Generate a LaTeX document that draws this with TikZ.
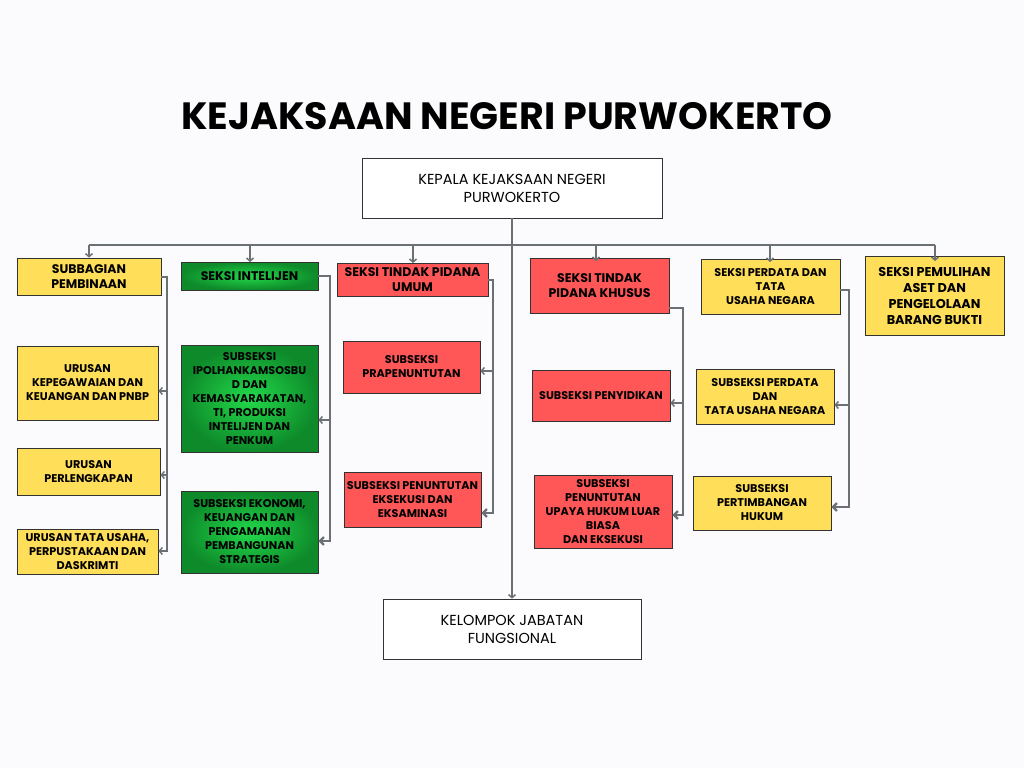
\documentclass[tikz,border=0pt]{standalone}
\usepackage{fontspec}
\setmainfont{Poppins}
\usetikzlibrary{arrows.meta}
\definecolor{bg}{HTML}{FBFBFD}
\definecolor{yel}{HTML}{FFDE59}
\definecolor{rd}{HTML}{FF5757}
\definecolor{gin}{HTML}{22D94A}
\definecolor{gout}{HTML}{0E8A2A}
\definecolor{ln}{HTML}{6B7075}
\begin{document}
\begin{tikzpicture}[x=1pt,y=-1pt,
 box/.style={draw=black!80,line width=0.8pt,align=center,inner sep=0pt,font=\fontsize{11.2}{14}\selectfont\bfseries},
 big/.style={font=\fontsize{12.5}{15}\selectfont\bfseries},
 ybox/.style={box,fill=yel},
 rbox/.style={box,fill=rd},
 gbox/.style={box,inner color=gin,outer color=gout},
 wbox/.style={draw=black!80,line width=0.8pt,fill=white,align=center,font=\fontsize{14.5}{18}\selectfont},
 con/.style={draw=ln,line width=2.2pt,-{Straight Barb[length=4pt,width=8pt]}},
 thin/.style={draw=ln,line width=1.5pt,-{Straight Barb[length=3pt,width=7pt]}}]
\fill[bg] (0,0) rectangle (1024,768);
\useasboundingbox (0,0) rectangle (1024,768);
\node[font=\fontsize{38}{42}\selectfont\bfseries] (title) at (507,116) {KEJAKSAAN NEGERI PURWOKERTO};
\node[wbox,minimum width=300,minimum height=60] (kep) at (512,188) {KEPALA KEJAKSAAN NEGERI\\PURWOKERTO};
\node[wbox,minimum width=258,minimum height=60] (kel) at (512,629) {KELOMPOK JABATAN\\FUNGSIONAL};
% column 1
\node[ybox,big,minimum width=144,minimum height=37] (c1) at (89,276.5) {SUBBAGIAN\\PEMBINAAN};
\node[ybox,minimum width=141,minimum height=74] (c1a) at (87.5,383) {URUSAN\\KEPEGAWAIAN DAN\\KEUANGAN DAN PNBP};
\node[ybox,minimum width=143,minimum height=47] (c1b) at (88.5,471.5) {URUSAN\\PERLENGKAPAN};
\node[ybox,minimum width=141,minimum height=45] (c1c) at (87.5,551.5) {URUSAN TATA USAHA,\\PERPUSTAKAAN DAN\\DASKRIMTI};
% column 2
\node[gbox,big,minimum width=137,minimum height=28] (c2) at (249.5,276) {SEKSI INTELIJEN};
\node[gbox,minimum width=137,minimum height=107] (c2a) at (249.5,398.5) {SUBSEKSI\\IPOLHANKAMSOSBU\\D DAN\\KEMASVARAKATAN,\\TI, PRODUKSI\\INTELIJEN DAN\\PENKUM};
\node[gbox,minimum width=137,minimum height=82] (c2b) at (249.5,532) {SUBSEKSI EKONOMI,\\KEUANGAN DAN\\PENGAMANAN\\PEMBANGUNAN\\STRATEGIS};
% column 3
\node[rbox,big,minimum width=151,minimum height=33] (c3) at (412.5,279.5) {SEKSI TINDAK PIDANA\\UMUM};
\node[rbox,minimum width=137,minimum height=52] (c3a) at (411.5,367) {SUBSEKSI\\PRAPENUNTUTAN};
\node[rbox,minimum width=137,minimum height=55] (c3b) at (412.5,499.5) {SUBSEKSI PENUNTUTAN\\EKSEKUSI DAN\\EKSAMINASI};
% column 4
\node[rbox,big,minimum width=139,minimum height=55] (c4) at (599.5,286) {SEKSI TINDAK\\PIDANA KHUSUS};
\node[rbox,minimum width=138,minimum height=51] (c4a) at (601,396) {SUBSEKSI PENYIDIKAN};
\node[rbox,minimum width=138,minimum height=73] (c4b) at (603,511.5) {SUBSEKSI\\PENUNTUTAN\\UPAYA HUKUM LUAR\\BIASA\\DAN EKSEKUSI};
% column 5
\node[ybox,minimum width=139,minimum height=55] (c5) at (770.5,287) {SEKSI PERDATA DAN\\TATA\\USAHA NEGARA};
\node[ybox,minimum width=138,minimum height=55] (c5a) at (765,397) {SUBSEKSI PERDATA\\DAN\\TATA USAHA NEGARA};
\node[ybox,minimum width=138,minimum height=54] (c5b) at (762,503) {SUBSEKSI\\PERTIMBANGAN\\HUKUM};
% column 6
\node[ybox,minimum width=139,minimum height=79,font=\fontsize{12.8}{16}\selectfont\bfseries] (c6) at (934.5,296) {SEKSI PEMULIHAN\\ASET DAN\\PENGELOLAAN\\BARANG BUKTI};
% main connectors
\coordinate (busL) at (89,245);
\coordinate (busR) at (935,245);
\draw[draw=ln,line width=1.5pt] (busL) -- (busR);
\draw[thin] (kep.south) -- (kel.north);
\draw[thin] (89,245) -- (c1.north);
\draw[thin] (250,245) -- (250,262);
\draw[thin] (413,245) -- (413,263);
\draw[thin] (596,245) -- (596,261);
\draw[thin] (770,245) -- (770,262);
\draw[thin] (935,245) -- (935,261);
% column connectors
\draw[thin] (c1.east|-0,277) -| (167,391) -- (c1a.east|-0,391);
\draw[thin] (167,391) |- (c1b.east|-0,475);
\draw[thin] (167,475) |- (c1c.east|-0,551);
\draw[thin] (c2.east) -| (330,420) -- (c2a.east|-0,420);
\draw[con] (330,420) |- (c2b.east|-0,541);
\draw[thin] (c3.east|-0,280) -| (493,371) -- (c3a.east|-0,371);
\draw[con] (493,371) |- (c3b.east|-0,513);
\draw[thin] (c4.east|-0,308) -| (683,403) -- (c4a.east|-0,403);
\draw[con] (683,403) |- (c4b.east|-0,515);
\draw[thin] (c5.east|-0,290) -| (849,405) -- (c5a.east|-0,405);
\draw[con] (849,405) |- (c5b.east|-0,507);
\end{tikzpicture}
\end{document}
